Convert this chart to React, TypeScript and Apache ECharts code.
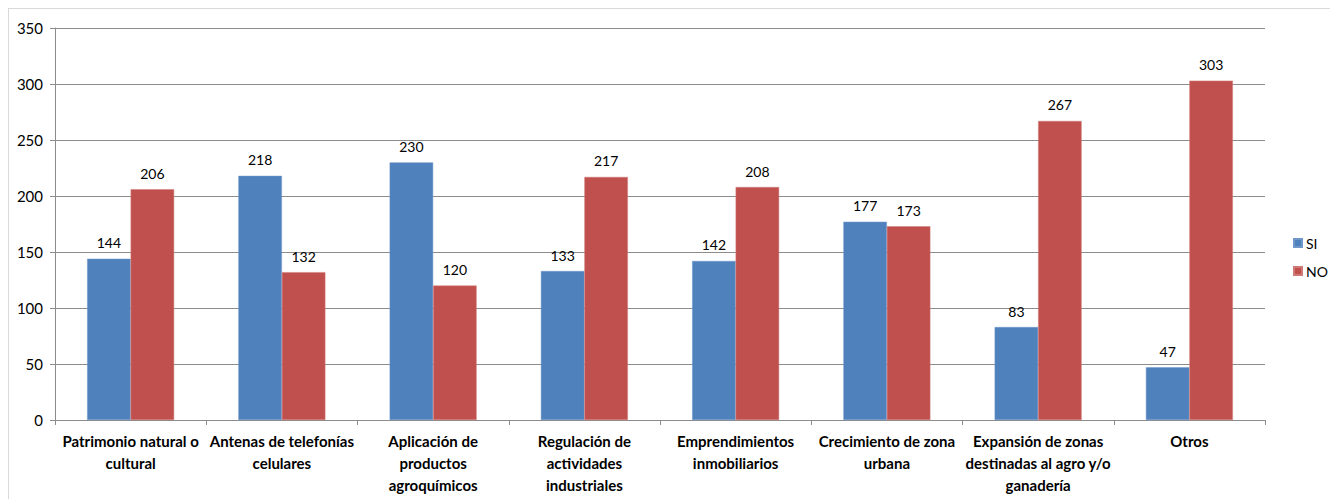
import React, { useEffect, useRef } from "react";
import * as echarts from "echarts";

const categories = [
  "Patrimonio natural o\ncultural",
  "Antenas de telefonías\ncelulares",
  "Aplicación de\nproductos\nagroquímicos",
  "Regulación de\nactividades\nindustriales",
  "Emprendimientos\ninmobiliarios",
  "Crecimiento de zona\nurbana",
  "Expansión de zonas\ndestinadas al agro y/o\nganadería",
  "Otros",
];
const siValues = [144, 218, 230, 133, 142, 177, 83, 47];
const noValues = [206, 132, 120, 217, 208, 173, 267, 303];
const seriesNames = ["SI", "NO"];

const FONT = "Lato";

export default function App() {
  const ref = useRef<HTMLDivElement>(null);
  useEffect(() => {
    if (!ref.current) return;
    const chart = echarts.init(ref.current, undefined, { renderer: "svg" });
    const label = {
      show: true,
      position: "top" as const,
      distance: 9,
      color: "#000",
      fontFamily: FONT,
      fontSize: 14,
    };
    chart.setOption({
      animation: false,
      textStyle: { fontFamily: FONT },
      grid: { left: 46, top: 19, width: 1210, height: 392, containLabel: false },
      legend: {
        orient: "vertical",
        left: 1279,
        top: 222,
        itemWidth: 8,
        itemHeight: 8,
        itemGap: 14,
        icon: "rect",
        textStyle: { fontFamily: FONT, fontSize: 14, color: "#000", padding: [0, 0, 0, -1] },
        data: seriesNames,
      },
      xAxis: {
        type: "category",
        data: categories,
        axisLine: { lineStyle: { color: "#8c8c8c" } },
        axisTick: { show: true, length: 5, alignWithLabel: false, lineStyle: { color: "#8c8c8c" } },
        axisLabel: {
          interval: 0,
          fontFamily: FONT,
          fontSize: 15,
          fontWeight: "bold",
          color: "#000",
          lineHeight: 22,
          margin: 10,
        },
      },
      yAxis: {
        type: "value",
        min: 0,
        max: 350,
        interval: 50,
        axisLine: { show: true, lineStyle: { color: "#8c8c8c" } },
        axisTick: { show: true, length: 5, lineStyle: { color: "#8c8c8c" } },
        splitLine: { lineStyle: { color: "#8c8c8c" } },
        axisLabel: { fontFamily: FONT, fontSize: 15, color: "#000", margin: 12 },
      },
      series: [
        {
          name: seriesNames[0],
          type: "bar",
          data: siValues,
          barGap: "0%",
          barCategoryGap: "42.5%",
          itemStyle: { color: "#4F81BD", borderColor: "#6f97c9", borderWidth: 0.5 },
          label,
        },
        {
          name: seriesNames[1],
          type: "bar",
          data: noValues,
          barGap: "0%",
          barCategoryGap: "42.5%",
          itemStyle: { color: "#C0504D", borderColor: "#d07a78", borderWidth: 0.5 },
          label,
        },
      ],
    });
    return () => chart.dispose();
  }, []);
  return (
    <div style={{ width: 1327, height: 492, border: "1px solid #d9d9d9", boxSizing: "border-box" }}>
      <div ref={ref} style={{ width: 1325, height: 490 }} />
    </div>
  );
}
